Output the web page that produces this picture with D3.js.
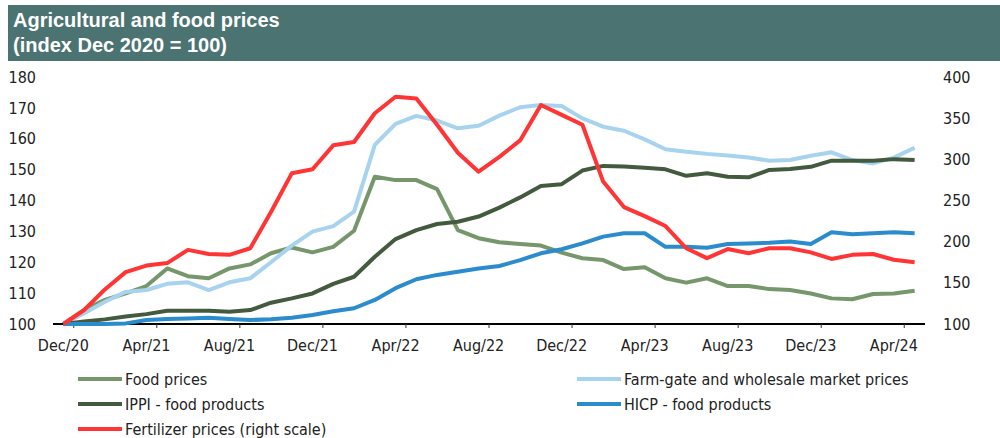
<!DOCTYPE html>
<html lang="en">
<head>
    <meta charset="UTF-8">
    <title>Agricultural and food prices</title>
    <script src="https://d3js.org/d3.v7.min.js"></script>
    <style>
        body { margin: 0; background: #fff; }
        text { font-family: 'Liberation Sans Narrow', 'DejaVu Sans Condensed', sans-serif; }
        .title { font-family: 'Liberation Sans', Arial, sans-serif; font-weight: bold; fill: #fff; }
    </style>
</head>
<body>
    <div id="container"></div>
    <script>
        // months Dec/20 .. May/24
        const months = ['Dec/20','Jan/21','Feb/21','Mar/21','Apr/21','May/21','Jun/21','Jul/21','Aug/21','Sep/21','Oct/21','Nov/21',
            'Dec/21','Jan/22','Feb/22','Mar/22','Apr/22','May/22','Jun/22','Jul/22','Aug/22','Sep/22','Oct/22','Nov/22',
            'Dec/22','Jan/23','Feb/23','Mar/23','Apr/23','May/23','Jun/23','Jul/23','Aug/23','Sep/23','Oct/23','Nov/23',
            'Dec/23','Jan/24','Feb/24','Mar/24','Apr/24','May/24'];
        const tickLabels = ['Dec/20','Apr/21','Aug/21','Dec/21','Apr/22','Aug/22','Dec/22','Apr/23','Aug/23','Dec/23','Apr/24'];
        const leftTicks = [100,110,120,130,140,150,160,170,180];
        const rightTicks = [100,150,200,250,300,350,400];

        const foodPrices = [100,104.5,107.8,109.9,112.3,118,115.5,114.8,118,119.3,122.9,124.8,
            123.2,125,130.2,147.7,146.6,146.6,143.7,130.4,127.8,126.5,125.9,125.4,
            123.1,121.3,120.7,117.8,118.4,114.8,113.4,114.8,112.3,112.3,111.3,111,
            109.9,108.3,108,109.7,109.9,110.8];
        const farmGate = [100,103.5,107.2,110.4,111,113,113.5,111,113.5,114.8,120,125.4,
            129.9,131.7,136.4,158,164.8,167.4,165.9,163.4,164.2,167.5,170.2,170.9,
            170.6,166.6,163.9,162.6,159.8,156.6,155.8,155.1,154.6,153.9,152.9,153.1,
            154.5,155.6,153.1,152,153.9,157.1];
        const ippi = [100,100.8,101.5,102.4,103.2,104.3,104.3,104.3,104,104.5,106.9,108.3,
            109.9,113,115.3,121.8,127.5,130.4,132.4,133.1,134.8,137.7,141,144.7,
            145.3,149.7,151.2,151,150.6,150.1,148,148.8,147.7,147.5,149.9,150.2,
            150.9,152.9,152.9,152.9,153.4,153.1];
        const hicp = [100,100,100,100.2,101.3,101.6,101.8,102,101.6,101.3,101.5,102,
            102.9,104.1,105.1,107.8,111.6,114.5,115.9,116.9,118,118.8,120.7,122.9,
            124.2,126.1,128.3,129.4,129.4,125,125,124.7,125.9,126.1,126.3,126.7,
            125.9,129.7,129.1,129.4,129.7,129.4];
        const fertilizer = [100,117,142,163,171,174,190,185,184,192,236,283,
            288,317,321,356,376,374,342,308,285,303,323,366,
            354,342,273,242,231,219,192,180,191,186,192,192,
            187,179,184,185,178,175];

        const series = [
            {name: 'Food prices', values: foodPrices, color: '#76966b', axis: 'left'},
            {name: 'Farm-gate and wholesale market prices', values: farmGate, color: '#a7d3ef', axis: 'left'},
            {name: 'IPPI - food products', values: ippi, color: '#435a3f', axis: 'left'},
            {name: 'HICP - food products', values: hicp, color: '#2a8bcd', axis: 'left'},
            {name: 'Fertilizer prices (right scale)', values: fertilizer, color: '#ff3535', axis: 'right'}
        ];

        const W = 1000, H = 438;
        const svg = d3.select('#container').append('svg')
            .attr('width', W).attr('height', H);

        // title bar
        svg.append('rect').attr('x', 8).attr('y', 5).attr('width', W - 8).attr('height', 56)
            .attr('fill', '#4a7371');
        svg.append('text').attr('class', 'title').attr('x', 13).attr('y', 27)
            .attr('font-size', 20).text('Agricultural and food prices');
        svg.append('text').attr('class', 'title').attr('x', 13).attr('y', 52)
            .attr('font-size', 20).text('(index Dec 2020 = 100)');

        // scales
        const x = d3.scaleBand().domain(months).range([53, 925]);
        const xc = d => x(d) + x.bandwidth() / 2;
        const yL = d3.scaleLinear().domain([100, 180]).range([324, 77]);
        const yR = d3.scaleLinear().domain([100, 400]).range([324, 77]);

        // left axis
        svg.append('g').attr('transform', 'translate(36,0)')
            .call(d3.axisLeft(yL).tickValues(leftTicks).tickSize(0).tickPadding(0))
            .call(g => g.select('.domain').remove())
            .selectAll('text').attr('font-size', 16).attr('fill', '#222');

        // right axis
        svg.append('g').attr('transform', 'translate(943,0)')
            .call(d3.axisRight(yR).tickValues(rightTicks).tickSize(0).tickPadding(0))
            .call(g => g.select('.domain').remove())
            .selectAll('text').attr('font-size', 16).attr('fill', '#222');

        // x axis
        const xAxis = svg.append('g').attr('transform', 'translate(0,324)');
        xAxis.append('line').attr('x1', 53).attr('x2', 925).attr('y1', 0).attr('y2', 0)
            .attr('stroke', '#000').attr('stroke-width', 2);
        // tick marks between categories, every 4 months
        xAxis.selectAll('line.tick').data(tickLabels).enter().append('line')
            .attr('class', 'tick')
            .attr('x1', d => x(d) + x.bandwidth()).attr('x2', d => x(d) + x.bandwidth())
            .attr('y1', 0).attr('y2', 4).attr('stroke', '#333').attr('stroke-width', 1);
        xAxis.selectAll('text').data(tickLabels).enter().append('text')
            .attr('x', d => xc(d)).attr('y', 27).attr('text-anchor', 'middle')
            .attr('font-size', 16).attr('fill', '#222').text(d => d);

        // lines
        const line = s => d3.line()
            .x((d, i) => xc(months[i]))
            .y(d => (s.axis === 'left' ? yL : yR)(d));
        series.forEach(s => {
            svg.append('path').datum(s.values)
                .attr('fill', 'none').attr('stroke', s.color)
                .attr('stroke-width', 4).attr('stroke-linejoin', 'round')
                .attr('d', line(s));
        });

        // legend
        const legendPos = [[78, 379], [577, 379], [78, 404], [577, 404], [78, 429]];
        series.forEach((s, i) => {
            const [lx, ly] = legendPos[i];
            svg.append('line').attr('x1', lx).attr('x2', lx + 44).attr('y1', ly).attr('y2', ly)
                .attr('stroke', s.color).attr('stroke-width', 4);
            svg.append('text').attr('x', lx + 47).attr('y', ly + 5.5)
                .attr('font-size', 16).attr('fill', '#222').text(s.name);
        });
    </script>
</body>
</html>
